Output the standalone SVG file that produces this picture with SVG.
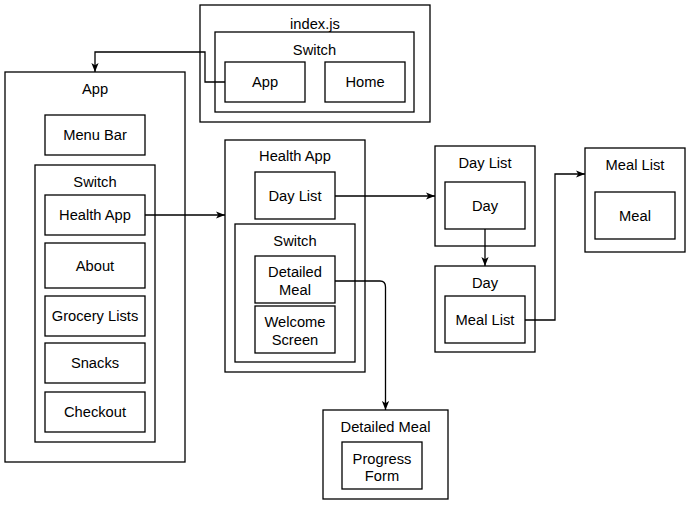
<svg xmlns="http://www.w3.org/2000/svg" width="691" height="505" viewBox="0 0 691 505">
<defs>
<marker id="arr" viewBox="0 0 10 8" refX="10" refY="4" markerWidth="9" markerHeight="7.2" markerUnits="userSpaceOnUse" orient="auto">
<path d="M0,0 L10,4 L0,8 L2.5,4 Z" fill="#000"/>
</marker>
</defs>
<style>
rect{fill:#fff;stroke:#000;stroke-width:1.3}
text{font-family:"Liberation Sans",Arial,Helvetica,sans-serif;font-size:14.7px;fill:#000;text-anchor:middle}
.c{fill:none;stroke:#000;stroke-width:1.3;marker-end:url(#arr)}
</style>
<rect x="0" y="0" width="691" height="505" style="stroke:none"/>

<g id="indexjs">
<rect x="200" y="5" width="230" height="117"/>
<text x="315" y="29">index.js</text>
<g id="index-switch">
<rect x="215" y="32" width="199" height="80"/>
<text x="314.5" y="55">Switch</text>
</g>
<g id="index-app"><rect x="225" y="62" width="80" height="40"/><text x="265" y="87">App</text></g>
<g id="index-home"><rect x="325" y="62" width="80" height="40"/><text x="365" y="87">Home</text></g>
</g>

<g id="app">
<rect x="5" y="72" width="180" height="390"/>
<text x="95" y="94">App</text>
<g id="menubar"><rect x="45" y="115" width="100" height="40"/><text x="95" y="140">Menu Bar</text></g>
<g id="app-switch">
<rect x="35" y="165" width="120" height="277"/>
<text x="95" y="187">Switch</text>
</g>
<g id="app-healthapp"><rect x="45" y="195" width="100" height="40"/><text x="95" y="220">Health App</text></g>
<g id="about"><rect x="45" y="243" width="100" height="45"/><text x="95" y="271">About</text></g>
<g id="grocery"><rect x="45" y="296" width="100" height="40"/><text x="95" y="321">Grocery Lists</text></g>
<g id="snacks"><rect x="45" y="343" width="100" height="40"/><text x="95" y="368">Snacks</text></g>
<g id="checkout"><rect x="45" y="392" width="100" height="40"/><text x="95" y="417">Checkout</text></g>
</g>

<g id="healthapp">
<rect x="225" y="140" width="140" height="232"/>
<text x="295" y="161">Health App</text>
<g id="ha-daylist"><rect x="255" y="172" width="80" height="47"/><text x="295" y="201">Day List</text></g>
<g id="ha-switch">
<rect x="235" y="224" width="120" height="138"/>
<text x="295" y="246">Switch</text>
</g>
<g id="ha-detailedmeal"><rect x="255" y="256" width="80" height="47"/><text x="295" y="277">Detailed</text><text x="295" y="295">Meal</text></g>
<g id="ha-welcome"><rect x="255" y="306" width="80" height="47"/><text x="295" y="327">Welcome</text><text x="295" y="345">Screen</text></g>
</g>

<g id="daylist">
<rect x="435" y="146" width="100" height="100"/>
<text x="485" y="168">Day List</text>
<g id="dl-day"><rect x="445" y="182" width="80" height="47"/><text x="485" y="211">Day</text></g>
</g>

<g id="day">
<rect x="435" y="266" width="100" height="86"/>
<text x="485" y="288">Day</text>
<g id="d-meallist"><rect x="445" y="296" width="80" height="47"/><text x="485" y="325">Meal List</text></g>
</g>

<g id="meallist">
<rect x="585" y="148" width="100" height="104"/>
<text x="635" y="170">Meal List</text>
<g id="ml-meal"><rect x="595" y="192" width="80" height="47"/><text x="635" y="221">Meal</text></g>
</g>

<g id="detailedmeal">
<rect x="323" y="410" width="125" height="89"/>
<text x="385.5" y="432">Detailed Meal</text>
<g id="dm-progress"><rect x="342" y="442" width="80" height="47"/><text x="382" y="464">Progress</text><text x="382" y="481">Form</text></g>
</g>

<g id="connectors">
<path class="c" d="M225,82 H205 V52 H95 V72"/>
<path class="c" d="M145,215 H225"/>
<path class="c" d="M335,196 H435"/>
<path class="c" d="M485,229 V266"/>
<path class="c" d="M525,320 H555 V174 H585"/>
<path class="c" d="M335,281 H380 Q385.5,281 385.5,287 V410"/>
</g>
</svg>
